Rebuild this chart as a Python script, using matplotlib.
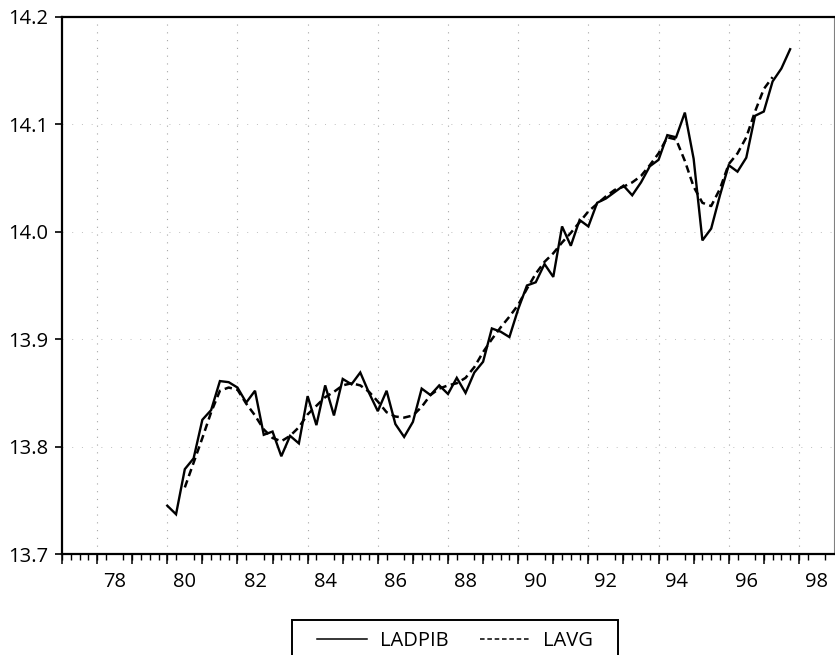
import numpy as np
import matplotlib
matplotlib.use("Agg")
import matplotlib.pyplot as plt
from matplotlib.patches import Rectangle

plt.rcParams['font.family'] = ['Open Sans', 'DejaVu Sans']

# ---- data (quarterly, starting 1980Q1) ----
start_year = 1980
lavg_offset = 2  # LAVG starts at 1980Q3

ladpib = [13.745, 13.737, 13.779, 13.789, 13.825, 13.834, 13.861, 13.860,
          13.855, 13.841, 13.852, 13.811, 13.814, 13.791, 13.810, 13.803,
          13.847, 13.820, 13.857, 13.829, 13.863, 13.858, 13.869, 13.850,
          13.833, 13.852, 13.821, 13.809, 13.823, 13.854, 13.848, 13.857,
          13.849, 13.864, 13.850, 13.869, 13.879, 13.910, 13.907, 13.902,
          13.928, 13.950, 13.953, 13.970, 13.958, 14.005, 13.987, 14.011,
          14.005, 14.027, 14.031, 14.037, 14.043, 14.034, 14.046, 14.061,
          14.067, 14.090, 14.088, 14.111, 14.068, 13.992, 14.003, 14.034,
          14.062, 14.056, 14.069, 14.108, 14.112, 14.140, 14.152, 14.170]

lavg = [13.762, 13.785, 13.808, 13.832, 13.852, 13.855, 13.853, 13.840,
        13.829, 13.816, 13.808, 13.805, 13.810, 13.818, 13.830, 13.838,
        13.846, 13.851, 13.857, 13.859, 13.857, 13.851, 13.842, 13.832,
        13.828, 13.827, 13.829, 13.837, 13.848, 13.854, 13.857, 13.859,
        13.864, 13.874, 13.888, 13.900, 13.911, 13.921, 13.932, 13.947,
        13.961, 13.972, 13.980, 13.990, 13.999, 14.009, 14.019, 14.026,
        14.033, 14.039, 14.042, 14.046, 14.052, 14.062, 14.073, 14.088,
        14.086, 14.066, 14.042, 14.027, 14.024, 14.040, 14.063, 14.073,
        14.088, 14.112, 14.133, 14.144]

year_labels = ['78', '80', '82', '84', '86', '88', '90', '92', '94', '96', '98']
y_ticks = [13.7, 13.8, 13.9, 14.0, 14.1, 14.2]

t_ladpib = start_year + np.arange(len(ladpib)) / 4.0
t_lavg = start_year + (lavg_offset + np.arange(len(lavg))) / 4.0

# ---- figure ----
W, H = 835, 655
fig = plt.figure(figsize=(W / 100, H / 100), dpi=100)
ax = fig.add_axes([62 / W, 101 / H, (834 - 62) / W, (554 - 17) / H])

ax.plot(t_ladpib, ladpib, color='black', lw=1.7, solid_joinstyle='miter',
        label='LADPIB')
ax.plot(t_lavg, lavg, color='black', lw=1.8, linestyle=(0, (3.0, 1.8)),
        label='LAVG')

ax.set_xlim(1977, 1999)
ax.set_ylim(13.7, 14.2)

FS = 14.5

# y axis
ax.set_yticks(y_ticks)
ax.set_yticklabels([f'{v:.1f}' for v in y_ticks])
ax.tick_params(axis='y', direction='out', length=5, width=1.2,
               labelsize=FS, pad=5, colors='black')

# x axis: labels at mid-year, quarter minor ticks, year ticks longer
label_years = np.array([1900 + int(s) for s in year_labels])
ax.set_xticks(label_years + 0.5)
ax.set_xticklabels(year_labels)
ax.tick_params(axis='x', which='major', length=0, labelsize=FS, pad=13)
ax.set_xticks(np.arange(1977, 1999, 0.25), minor=True)
ax.tick_params(axis='x', which='minor', direction='out', length=4, width=1.0)

sec = ax.secondary_xaxis('bottom')
sec.set_xticks(np.arange(1977, 1999, 1.0))
sec.set_xticklabels([])
sec.tick_params(direction='out', length=7, width=1.1)
sec.spines['bottom'].set_visible(False)

# faint dotted grid (as in the scanned original)
for yr in range(1978, 1999, 2):
    ax.axvline(yr, color='0.65', lw=0.8, linestyle=(0, (1, 6)), zorder=0)
for v in y_ticks[1:-1]:
    ax.axhline(v, color='0.75', lw=0.7, linestyle=(0, (1, 9)), zorder=0)

for side in ['left', 'bottom', 'top']:
    ax.spines[side].set_linewidth(1.6)
ax.spines['right'].set_linewidth(0.8)
ax.spines['right'].set_color('0.5')

# legend (frame drawn separately to match the wide box of the original)
leg = fig.legend(loc='upper center', bbox_to_anchor=(455 / W, (H - 622) / H),
                 ncol=2, frameon=False, fontsize=FS,
                 handlelength=2.5, handletextpad=0.6, columnspacing=1.6,
                 borderpad=0.45, borderaxespad=0)
for ln in leg.get_lines():
    ln.set_linewidth(1.1)
fig.patches.append(Rectangle((292 / W, -0.02), (618 - 292) / W,
                             (H - 620) / H + 0.02,
                             transform=fig.transFigure, fill=False,
                             edgecolor='black', linewidth=1.4))

fig.savefig('out.png', dpi=100)
